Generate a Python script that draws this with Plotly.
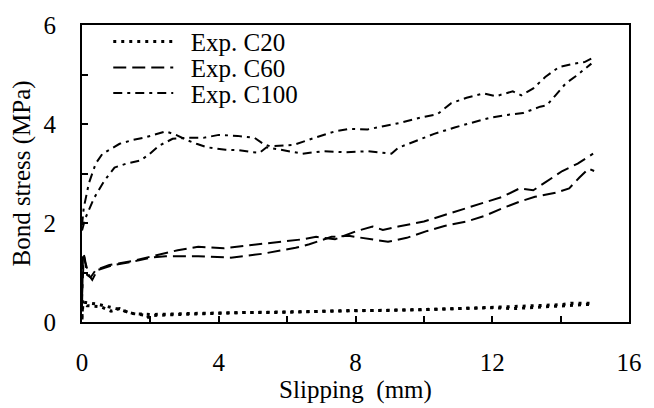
import plotly.graph_objects as go

# ---- data ----
c20a_x = [0, 0.02, 0.15, 0.55, 0.85, 1.1, 1.4, 1.8, 1.9, 2.0, 2.8, 3.7, 4.7, 5.6, 6.6, 7.8, 8.8, 10.0, 11.0, 12.0, 12.6, 13.5, 14.3, 14.95]
c20a_y = [0.05, 0.42, 0.33, 0.31, 0.22, 0.27, 0.18, 0.14, 0.08, 0.13, 0.15, 0.17, 0.19, 0.19, 0.21, 0.23, 0.23, 0.25, 0.26, 0.29, 0.27, 0.30, 0.33, 0.36]
c20b_x = [0, 0.03, 0.45, 1.0, 1.5, 2.0, 3.0, 4.0, 5.0, 6.0, 7.0, 8.0, 9.0, 10.0, 11.0, 12.0, 12.7, 13.3, 14.0, 14.3, 14.95]
c20b_y = [0.1, 0.40, 0.36, 0.27, 0.17, 0.15, 0.17, 0.18, 0.19, 0.20, 0.22, 0.22, 0.24, 0.25, 0.27, 0.30, 0.32, 0.33, 0.35, 0.38, 0.38]

c60a_x = [0, 0.03, 0.08, 0.15, 0.25, 0.4, 0.8, 1.45, 2.0, 2.8, 3.4, 4.15, 4.9, 5.7, 6.45, 6.85, 7.4, 8.0, 8.5, 8.8, 9.25, 10.0, 10.7, 11.3, 11.8, 12.3, 12.8, 13.2, 13.55, 14.05, 14.5, 14.95]
c60a_y = [0.3, 1.4, 1.3, 0.95, 0.9, 1.05, 1.15, 1.23, 1.32, 1.45, 1.52, 1.49, 1.55, 1.61, 1.67, 1.72, 1.67, 1.83, 1.93, 1.86, 1.93, 2.03, 2.18, 2.32, 2.42, 2.53, 2.70, 2.66, 2.82, 3.05, 3.20, 3.40]
c60b_x = [0, 0.05, 0.12, 0.2, 0.3, 0.45, 0.9, 1.5, 2.0, 2.45, 3.4, 4.35, 5.3, 6.25, 6.65, 7.3, 7.8, 8.5, 8.95, 9.5, 10.1, 10.6, 11.25, 11.8, 12.3, 12.8, 13.25, 13.85, 14.25, 14.55, 14.82, 14.98]
c60b_y = [0.5, 1.3, 1.15, 0.95, 0.85, 1.05, 1.15, 1.22, 1.30, 1.33, 1.33, 1.30, 1.38, 1.50, 1.57, 1.72, 1.74, 1.67, 1.62, 1.70, 1.84, 1.94, 2.03, 2.15, 2.30, 2.43, 2.53, 2.61, 2.70, 2.92, 3.10, 3.05]

c100a_x = [0, 0.05, 0.2, 0.4, 0.6, 0.85, 1.1, 1.5, 1.8, 2.1, 2.45, 2.75, 3.05, 3.35, 3.65, 4.2, 4.6, 5.0, 5.2, 5.4, 5.9, 6.45, 7.05, 7.7, 8.35, 9.05, 9.25, 9.8, 10.3, 10.9, 11.45, 11.95, 12.4, 12.9, 13.4, 13.6, 13.85, 14.15, 14.45, 14.7, 14.9]
c100a_y = [1.95, 2.3, 2.8, 3.2, 3.4, 3.5, 3.6, 3.68, 3.72, 3.78, 3.85, 3.78, 3.68, 3.60, 3.53, 3.48, 3.47, 3.43, 3.42, 3.53, 3.47, 3.40, 3.45, 3.43, 3.45, 3.40, 3.52, 3.67, 3.80, 3.93, 4.03, 4.13, 4.18, 4.22, 4.35, 4.38, 4.58, 4.82, 4.97, 5.10, 5.22]
c100b_x = [0, 0.1, 0.35, 0.65, 0.95, 1.3, 1.7, 1.95, 2.25, 2.65, 3.1, 3.55, 4.0, 4.55, 5.05, 5.3, 5.5, 6.2, 6.8, 7.4, 7.8, 8.35, 8.85, 9.35, 9.9, 10.4, 10.8, 11.25, 11.75, 12.1, 12.6, 12.85, 13.2, 13.55, 13.95, 14.4, 14.7, 14.95]
c100b_y = [1.85, 2.1, 2.5, 2.85, 3.12, 3.2, 3.26, 3.38, 3.56, 3.70, 3.72, 3.72, 3.78, 3.76, 3.72, 3.60, 3.55, 3.58, 3.72, 3.85, 3.90, 3.89, 3.96, 4.03, 4.13, 4.20, 4.42, 4.53, 4.62, 4.56, 4.66, 4.58, 4.72, 4.95, 5.15, 5.22, 5.25, 5.34]

x_ticks = [0, 4, 8, 12, 16]
y_ticks = [0, 2, 4, 6]

FONT = "Liberation Serif, Times New Roman, serif"

styles = {
    "C20": dict(width=3, dash="3px,5px"),
    "C60": dict(width=2, dash="13px,6px"),
    "C100": dict(width=2, dash="9px,5px,3px,5px"),
}

fig = go.Figure()
series = [
    ("Exp. C20", "C20", "legend", c20a_x, c20a_y, c20b_x, c20b_y),
    ("Exp. C60", "C60", "legend2", c60a_x, c60a_y, c60b_x, c60b_y),
    ("Exp. C100", "C100", "legend3", c100a_x, c100a_y, c100b_x, c100b_y),
]
for name, key, leg, ax, ay, bx, by in series:
    st = styles[key]
    fig.add_trace(go.Scatter(x=ax, y=ay, mode="lines", name="\u00a0\u00a0" + name, legend=leg,
                             line=dict(color="black", **st)))
    fig.add_trace(go.Scatter(x=bx, y=by, mode="lines", name=name, legend=leg,
                             showlegend=False, line=dict(color="black", **st)))

leg_common = dict(font=dict(family=FONT, size=25, color="black"), bgcolor="rgba(0,0,0,0)",
                  itemwidth=60, xanchor="left", yanchor="middle", x=0.048,
                  tracegroupgap=0)

fig.update_layout(
    width=654, height=408,
    margin=dict(l=82, r=16, t=16, b=79),
    paper_bgcolor="white", plot_bgcolor="white",
    font=dict(family=FONT, size=25, color="black"),
    legend=dict(y=0.944, **leg_common),
    legend2=dict(y=0.856, **leg_common),
    legend3=dict(y=0.770, **leg_common),
    xaxis=dict(range=[0, 16], tickvals=x_ticks, ticks="inside", ticklen=6, tickwidth=2,
               tickcolor="black", showline=True, linewidth=2, linecolor="black", mirror=True,
               showgrid=False, zeroline=False, ticklabelstandoff=17,
               minor=dict(dtick=2, ticks="inside", ticklen=6, tickwidth=2, tickcolor="black", showgrid=False),
               title=dict(text="Slipping  (mm)", font=dict(size=25), standoff=2)),
    yaxis=dict(range=[0, 6], tickvals=y_ticks, ticks="inside", ticklen=6, tickwidth=2,
               tickcolor="black", showline=True, linewidth=2, linecolor="black", mirror=True,
               showgrid=False, zeroline=False, ticklabelstandoff=19,
               minor=dict(dtick=1, ticks="inside", ticklen=6, tickwidth=2, tickcolor="black", showgrid=False),
               title=dict(text="Bond stress (MPa)", font=dict(size=25), standoff=6)),
)

fig.write_html("out.html")
